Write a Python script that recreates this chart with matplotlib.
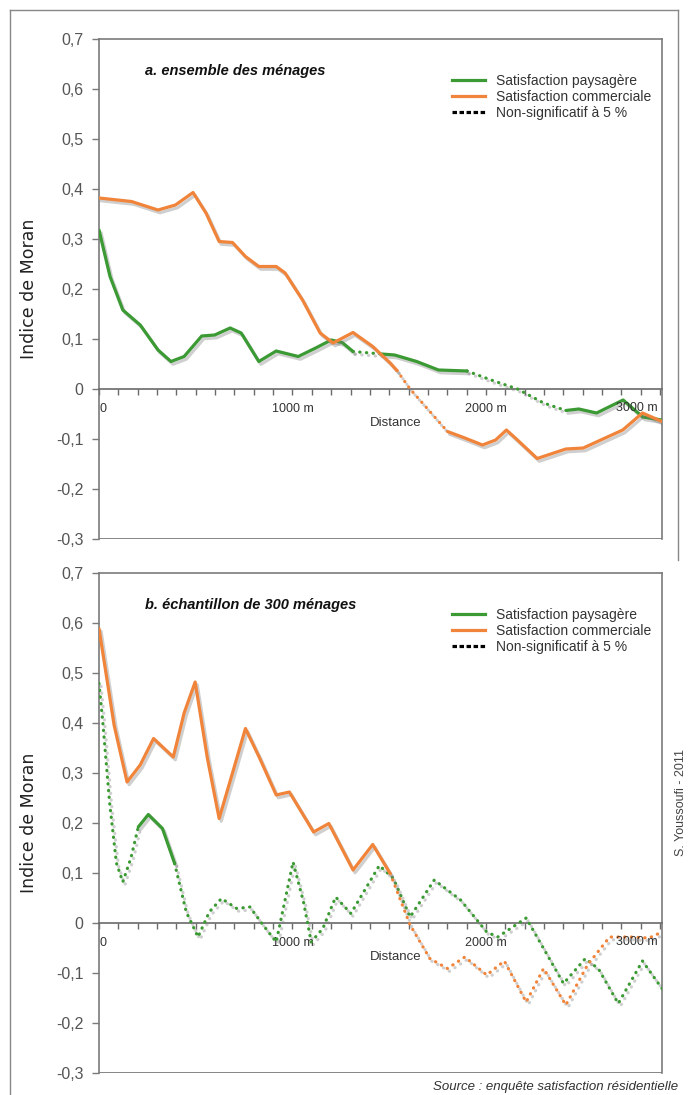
import matplotlib
matplotlib.use("Agg")
import matplotlib.pyplot as plt
from matplotlib.lines import Line2D
import matplotlib.patheffects as pe

plt.rcParams['font.family'] = ['Liberation Sans', 'DejaVu Sans']

# ---- data (distance in m, Moran index) ----
a_pay_d = [0, 57, 123, 213, 305, 372, 440, 531, 598, 678, 735, 826, 916, 1030, 1120, 1200, 1257, 1313,
           1460, 1528, 1642, 1755, 1902, 2027, 2163, 2298, 2413, 2480, 2572, 2709, 2811, 2910]
a_pay_v = [0.318, 0.225, 0.158, 0.128, 0.078, 0.055, 0.065, 0.106, 0.108, 0.122, 0.112, 0.055, 0.076, 0.065,
           0.082, 0.098, 0.093, 0.075, 0.070, 0.068, 0.055, 0.038, 0.036, 0.018, 0.0, -0.028, -0.043, -0.040,
           -0.048, -0.022, -0.056, -0.062]
a_pay_ns = [(1313, 1460), (1902, 2413)]

a_com_d = [0, 168, 305, 395, 486, 553, 621, 690, 757, 826, 916, 962, 1052, 1143, 1210, 1313, 1415, 1505,
           1540, 1608, 1801, 1891, 1982, 2050, 2106, 2163, 2265, 2413, 2503, 2707, 2809, 2910]
a_com_v = [0.382, 0.375, 0.358, 0.368, 0.393, 0.352, 0.295, 0.293, 0.265, 0.245, 0.245, 0.232, 0.178, 0.112,
           0.092, 0.113, 0.085, 0.052, 0.037, 0.0, -0.085, -0.098, -0.112, -0.102, -0.082, -0.102, -0.139,
           -0.120, -0.118, -0.082, -0.048, -0.065]
a_com_ns = [(1540, 1801)]

b_pay_d = [0, 20, 55, 90, 123, 165, 203, 255, 328, 391, 451, 512, 570, 633, 712, 780, 848, 916, 1003, 1057,
           1097, 1157, 1223, 1302, 1449, 1522, 1608, 1733, 1869, 2004, 2061, 2208, 2298, 2401, 2514, 2582,
           2684, 2809, 2910]
b_pay_v = [0.479, 0.40, 0.24, 0.12, 0.082, 0.13, 0.192, 0.217, 0.189, 0.119, 0.022, -0.028, 0.022, 0.049,
           0.029, 0.032, -0.004, -0.038, 0.122, 0.042, -0.038, -0.011, 0.052, 0.019, 0.115, 0.089, 0.012,
           0.086, 0.046, -0.018, -0.028, 0.010, -0.051, -0.121, -0.071, -0.092, -0.161, -0.076, -0.131]
b_pay_ns = [(0, 203), (391, 2910)]

b_com_d = [0, 78, 145, 213, 282, 384, 440, 497, 560, 621, 690, 757, 830, 916, 984, 1109, 1188, 1313, 1415,
           1505, 1608, 1710, 1801, 1891, 2004, 2095, 2208, 2298, 2413, 2525, 2639, 2752, 2843, 2910]
b_com_v = [0.589, 0.396, 0.282, 0.316, 0.369, 0.332, 0.42, 0.482, 0.33, 0.209, 0.30, 0.389, 0.33, 0.256,
           0.262, 0.182, 0.199, 0.106, 0.157, 0.099, -0.004, -0.071, -0.091, -0.068, -0.104, -0.076, -0.158,
           -0.091, -0.164, -0.084, -0.028, -0.028, -0.030, -0.018]
b_com_ns = [(1505, 2910)]

panels = [
    ("a. ensemble des ménages", (a_pay_d, a_pay_v, a_pay_ns), (a_com_d, a_com_v, a_com_ns)),
    ("b. échantillon de 300 ménages", (b_pay_d, b_pay_v, b_pay_ns), (b_com_d, b_com_v, b_com_ns)),
]
green = '#3b9a33'
orange = '#f0843a'
yticks = [0.7, 0.6, 0.5, 0.4, 0.3, 0.2, 0.1, 0, -0.1, -0.2, -0.3]
fr = lambda v: "0" if v == 0 else f"{v:.1f}".replace('.', ',')

shadow = [pe.SimpleLineShadow(offset=(1.5, -2.0), shadow_color='#777777', alpha=0.35), pe.Normal()]


def draw_series(ax, d, v, ns, color):
    # split into runs of significant / non-significant segments
    def is_ns(i):
        m = (d[i] + d[i + 1]) / 2
        return any(a <= m <= b for a, b in ns)
    start = 0
    for i in range(len(d) - 1):
        last = i == len(d) - 2
        if last or is_ns(i) != is_ns(i + 1):
            xs, ys = d[start:i + 2], v[start:i + 2]
            if is_ns(i):
                ax.plot(xs, ys, color=color, lw=2.3, linestyle=(0, (0.1, 2.0)),
                        dash_capstyle='round', path_effects=shadow, zorder=3)
            else:
                ax.plot(xs, ys, color=color, lw=2.3, solid_capstyle='round',
                        solid_joinstyle='round', path_effects=shadow, zorder=3)
            start = i + 1


fig = plt.figure(figsize=(6.88, 10.95), dpi=100)
boxes = [[99 / 688, 1 - 539 / 1095, 563 / 688, 500 / 1095],
         [99 / 688, 1 - 1073 / 1095, 563 / 688, 500 / 1095]]

for box, (title, pay, com) in zip(boxes, panels):
    ax = fig.add_axes(box)
    draw_series(ax, *pay, green)
    draw_series(ax, *com, orange)
    ax.set_xlim(0, 2910)
    ax.set_ylim(-0.3, 0.7)

    for s in ['left', 'top', 'right']:
        ax.spines[s].set_color('#7a7a7a')
        ax.spines[s].set_linewidth(1.2)
    ax.spines['bottom'].set_position(('data', 0))
    ax.spines['bottom'].set_color('#6a6a6a')
    ax.spines['bottom'].set_linewidth(1.2)
    ax.axhline(-0.3, color='#7a7a7a', lw=2.0, zorder=1)

    ax.set_yticks(yticks)
    ax.set_yticklabels([fr(v) for v in yticks])
    ax.tick_params(axis='y', length=5, width=1, color='#7a7a7a', labelsize=11.5,
                   labelcolor='#555555', pad=6)
    ax.set_xticks([0, 1000, 2000])
    ax.set_xticklabels(['0', '1000 m', '2000 m'])
    ax.set_xticks(range(0, 2910, 100), minor=True)
    ax.tick_params(axis='x', which='both', length=4, width=1, color='#6a6a6a',
                   labelsize=9, labelcolor='#333333', pad=6)
    ax.get_xticklabels()[0].set_ha('left')
    ax.annotate('3000 m', (2780, 0), xytext=(0, -14), textcoords='offset points',
                ha='center', va='center', fontsize=9, color='#333333', zorder=4)
    ax.set_xlabel('Distance', fontsize=9.5, color='#333333')
    ax.xaxis.set_label_coords(0.527, 0.232)
    ax.xaxis.label.set_va('center')
    ax.set_ylabel('Indice de Moran', family='DejaVu Sans', fontsize=12.5, color='#222222')
    ax.yaxis.set_label_coords(-0.108, 0.5)

    ax.text(0.082, 0.935, title, transform=ax.transAxes, fontsize=10.5,
            fontweight='bold', style='italic', color='#111111', va='center')

    handles = [Line2D([], [], color=green, lw=2.3),
               Line2D([], [], color=orange, lw=2.3),
               Line2D([], [], color='black', lw=2.3, linestyle=(0, (1.4, 0.8)))]
    ax.legend(handles, ['Satisfaction paysagère', 'Satisfaction commerciale', 'Non-significatif à 5 %'],
              loc='upper left', bbox_to_anchor=(0.627, 0.93), frameon=False, fontsize=10,
              handlelength=2.4, handletextpad=0.8, labelspacing=0.15, borderpad=0, borderaxespad=0,
              labelcolor='#333333')

# outer frame
fig.add_artist(Line2D([10 / 688, 10 / 688], [0, 1 - 10 / 1095], color='#888888', lw=1))
fig.add_artist(Line2D([10 / 688, 678 / 688], [1 - 10 / 1095, 1 - 10 / 1095], color='#888888', lw=1))
fig.add_artist(Line2D([678 / 688, 678 / 688], [1 - 10 / 1095, 1 - 560 / 1095], color='#888888', lw=1))

fig.text(678 / 688, 1 - 1087 / 1095, 'Source : enquête satisfaction résidentielle', ha='right', va='center',
         fontsize=9.5, style='italic', color='#333333')
fig.text(681 / 688, 1 - 802 / 1095, 'S. Youssoufi - 2011', rotation=90, ha='center', va='center',
         fontsize=9, color='#444444')

fig.savefig('out.png', dpi=100)
